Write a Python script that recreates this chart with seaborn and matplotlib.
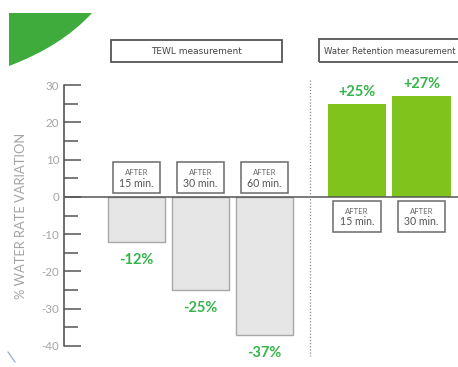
import matplotlib
matplotlib.use("Agg")
import matplotlib.pyplot as plt
from matplotlib.patches import PathPatch, Rectangle
from matplotlib.path import Path
from matplotlib.lines import Line2D
import seaborn as sns
import pandas as pd

# --- data -------------------------------------------------------------
tewl_labels = ["AFTER\n15 min.", "AFTER\n30 min.", "AFTER\n60 min."]
tewl_values = [-12, -25, -37]
retention_labels = ["AFTER\n15 min.", "AFTER\n30 min."]
retention_values = [25, 27]
group_titles = ["TEWL measurement", "Water Retention measurement"]
y_ticks = [30, 20, 10, 0, -10, -20, -30, -40]
y_label = "% WATER RATE VARIATION"

# --- style ------------------------------------------------------------
sns.set_theme(style="white")
plt.rcParams["font.family"] = ["Lato", "DejaVu Sans"]
plt.rcParams["axes.unicode_minus"] = False

GREY_BAR = "#e6e6e6"
GREY_EDGE = "#a8a8a8"
LIME = "#7fc31c"
LABEL_GREEN = "#35b44a"
AXIS_GREY = "#555555"
TEXT_GREY = "#a3a3a3"

W, H = 458, 367
fig = plt.figure(figsize=(W / 100, H / 100), dpi=100)


def fx(px):
    return px / W


def fy(py):
    return 1 - py / H


# pixel rows of the value scale
Y_TOP_PX, Y_TOP_VAL = 85, 30
Y_BOT_PX, Y_BOT_VAL = 346, -40
ppu = (Y_BOT_PX - Y_TOP_PX) / (Y_TOP_VAL - Y_BOT_VAL)
ylim = (Y_BOT_VAL - (H - Y_BOT_PX) / ppu, Y_TOP_VAL + Y_TOP_PX / ppu)

AX_LEFT, SPLIT = 64, 310
ax1 = fig.add_axes([fx(AX_LEFT), 0, fx(SPLIT - AX_LEFT), 1])
ax2 = fig.add_axes([fx(SPLIT), 0, fx(W - SPLIT), 1], sharey=ax1)

df1 = pd.DataFrame({"when": tewl_labels, "value": tewl_values})
df2 = pd.DataFrame({"when": retention_labels, "value": retention_values})

sns.barplot(data=df1, x="when", y="value", ax=ax1, color=GREY_BAR,
            edgecolor=GREY_EDGE, linewidth=1.0, width=0.9, saturation=1)
sns.barplot(data=df2, x="when", y="value", ax=ax2, color=LIME,
            edgecolor="none", width=0.9, saturation=1)

ax1.set_ylim(*ylim)
# category spacing of 64 px, bar centres at 136 / 200 / 264 px
ax1.set_xlim((AX_LEFT - 136.5) / 64, (SPLIT - 136.5) / 64)
ax2.set_xlim((SPLIT - 357) / 64.5, (W - 357) / 64.5)

for ax in (ax1, ax2):
    for s in ax.spines.values():
        s.set_visible(False)
    ax.set_xlabel("")
    ax.set_ylabel("")
    ax.set_xticks([])
    ax.patch.set_alpha(0)
    ax.axhline(0, color=AXIS_GREY, lw=1.1, zorder=3)

# value axis: line with ticks pointing into the plot
ax1.set_yticks(y_ticks)
ax1.set_yticks([v + 5 for v in y_ticks[1:]], minor=True)
ax1.tick_params(axis="y", which="major", direction="in", length=12,
                width=1.1, color=AXIS_GREY, labelcolor=TEXT_GREY,
                labelsize=8.3, pad=-2, left=True)
ax1.tick_params(axis="y", which="minor", direction="in", length=10,
                width=1.1, color=AXIS_GREY, left=True)
ax1.yaxis.set_tick_params(labelleft=True)
for lbl in ax1.get_yticklabels():
    lbl.set_horizontalalignment("right")
    lbl.set_x(-0.03)
ax1.plot([0, 0], [Y_BOT_VAL, Y_TOP_VAL], transform=ax1.get_yaxis_transform(),
         color=AXIS_GREY, lw=1.2, clip_on=False, zorder=4)
ax2.tick_params(axis="y", left=False, labelleft=False)

fig.text(fx(21), fy(216), y_label, rotation=90, ha="center", va="center",
         color=TEXT_GREY, fontsize=9.3)

# value labels
for ax, vals in ((ax1, tewl_values), (ax2, retention_values)):
    for i, v in enumerate(vals):
        off = -11 if v < 0 else 5
        ax.annotate(f"{v:+d}%", (i, v), xytext=(0, off),
                    textcoords="offset pixels", ha="center",
                    va="top" if v < 0 else "bottom",
                    color=LABEL_GREEN, fontsize=10.5, fontweight="bold")

# "AFTER ..." tags, sitting on the opposite side of the zero line
TAG_W = 0.73
for ax, labels, vals in ((ax1, tewl_labels, tewl_values),
                         (ax2, retention_labels, retention_values)):
    for i, (lab, v) in enumerate(zip(labels, vals)):
        top, bottom = lab.split("\n")
        sign = 1 if v < 0 else -1
        y_near, y_far = sign * 1.1, sign * 9.3
        ax.add_patch(Rectangle((i - TAG_W / 2, min(y_near, y_far)), TAG_W,
                               abs(y_far - y_near), fc="white",
                               ec="#6a6a6a", lw=1.1, zorder=5))
        y_mid = (y_near + y_far) / 2
        ax.text(i, y_mid + 1.4, top, ha="center", va="center",
                fontsize=5.6, color="#666666", zorder=6)
        ax.text(i, y_mid - 1.5, bottom, ha="center", va="center",
                fontsize=7.6, color="#555555", zorder=6)

# group headers
narrow = ["Liberation Sans Narrow", "DejaVu Sans"]
fig.add_artist(Rectangle((fx(111), fy(62)), fx(282 - 111), fy(40) - fy(62),
                         fill=False, ec="#555555", lw=1.3))
fig.text(fx(197), fy(51), group_titles[0], ha="center", va="center",
         fontsize=6.5, color="#444444", family=narrow)
fig.add_artist(Rectangle((fx(319), fy(62)), fx(470 - 319), fy(39) - fy(62),
                         fill=False, ec="#555555", lw=1.3, clip_on=False))
fig.text(fx(324), fy(51), group_titles[1], ha="left", va="center",
         fontsize=6.1, color="#444444", family=narrow)

# dotted divider between the two groups
fig.add_artist(Line2D([fx(SPLIT), fx(SPLIT)], [fy(80), fy(356)],
                      color="#8a8a8a", lw=0.9, ls=(0, (1, 1.5))))

# green corner swoosh
verts = [(fx(9), fy(13)), (fx(92), fy(13)),
         (fx(62), fy(46)), (fx(9), fy(66)),
         (fx(9), fy(13))]
codes = [Path.MOVETO, Path.LINETO, Path.CURVE3, Path.CURVE3, Path.CLOSEPOLY]
fig.add_artist(PathPatch(Path(verts, codes), fc="#3fab3c", ec="none",
                         transform=fig.transFigure))
fig.add_artist(Line2D([fx(8), fx(15)], [fy(352), fy(362)],
                      color="#9fb4cc", lw=1.0))

fig.savefig("out.png", dpi=100)
